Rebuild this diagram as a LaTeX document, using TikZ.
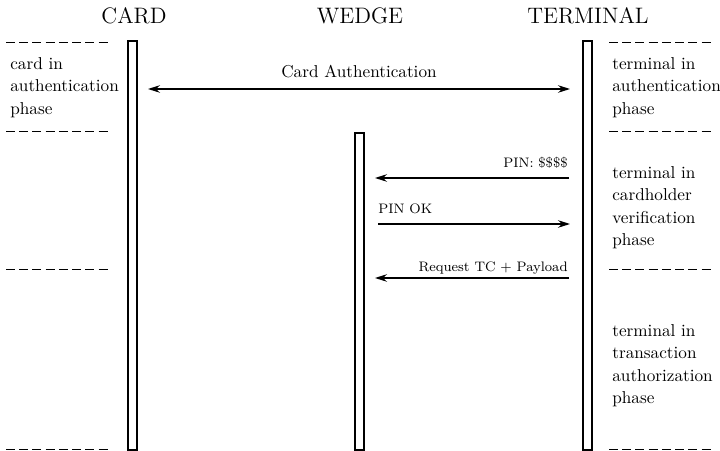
\documentclass[tikz,border=0pt]{standalone}
\usetikzlibrary{arrows.meta}
\begin{document}
\begin{tikzpicture}[x=0.5814pt,y=-0.5814pt,
  lifeline/.style={draw,line width=1.1pt,fill=white},
  sep/.style={dashed,dash pattern=on 5.2pt off 2.5pt,line width=0.5pt},
  tip/.tip={Stealth[length=7pt,width=4.4pt,inset=2.4pt]},
  msg/.style={line width=0.7pt,-tip},
  title/.style={font=\fontsize{13}{15}\selectfont,anchor=base,inner sep=0pt},
  phase/.style={align=left,anchor=north west,inner sep=0pt,font=\fontsize{10}{13.1}\selectfont},
  lbl/.style={inner sep=0pt,font=\footnotesize}]
\useasboundingbox (0,0) rectangle (720,451);
% titles
\node[title] (tcard) at (134,24) {CARD};
\node[title] (twedge) at (360,24) {WEDGE};
\node[title] (tterm) at (588,24) {TERMINAL};
% lifelines
\draw[lifeline] (128,41) rectangle (137,450);
\draw[lifeline] (355,133) rectangle (364,450);
\draw[lifeline] (583,41) rectangle (592,450);
% separators
\foreach \yy in {42,131,269,449} {
  \draw[sep] (6,\yy) -- (110,\yy);
  \draw[sep] (609,\yy) -- (713,\yy);
}
% phase texts
\node[phase] (pc) at (10,57) {card in\\authentication\\phase};
\node[phase] (pt1) at (612,57) {terminal in\\authentication\\phase};
\node[phase] (pt2) at (612,166) {terminal in\\cardholder\\verification\\phase};
\node[phase] (pt3) at (612,324) {terminal in\\transaction\\authorization\\phase};
% connector end points
\coordinate (cA) at (148,89);
\coordinate (tA) at (570,89);
\coordinate (t1) at (569,178);
\coordinate (w1) at (375,178);
\coordinate (w2) at (378,224);
\coordinate (t2) at (570,224);
\coordinate (t3) at (569,278);
\coordinate (w3) at (375,278);
% messages
\draw[msg,tip-tip] (cA) -- (tA);
\node[inner sep=0pt,anchor=base] (lA) at (359,78) {Card Authentication};
\draw[msg] (t1) -- (w1);
\node[lbl,anchor=base east] (l1) at (568,168) {PIN: \$\$\$\$};
\draw[msg] (w2) -- (t2);
\node[lbl,anchor=base west] (l2) at (378,214) {PIN OK};
\draw[msg] (t3) -- (w3);
\node[lbl,anchor=base east] (l3) at (568,272) {Request TC + Payload};
\end{tikzpicture}
\end{document}
